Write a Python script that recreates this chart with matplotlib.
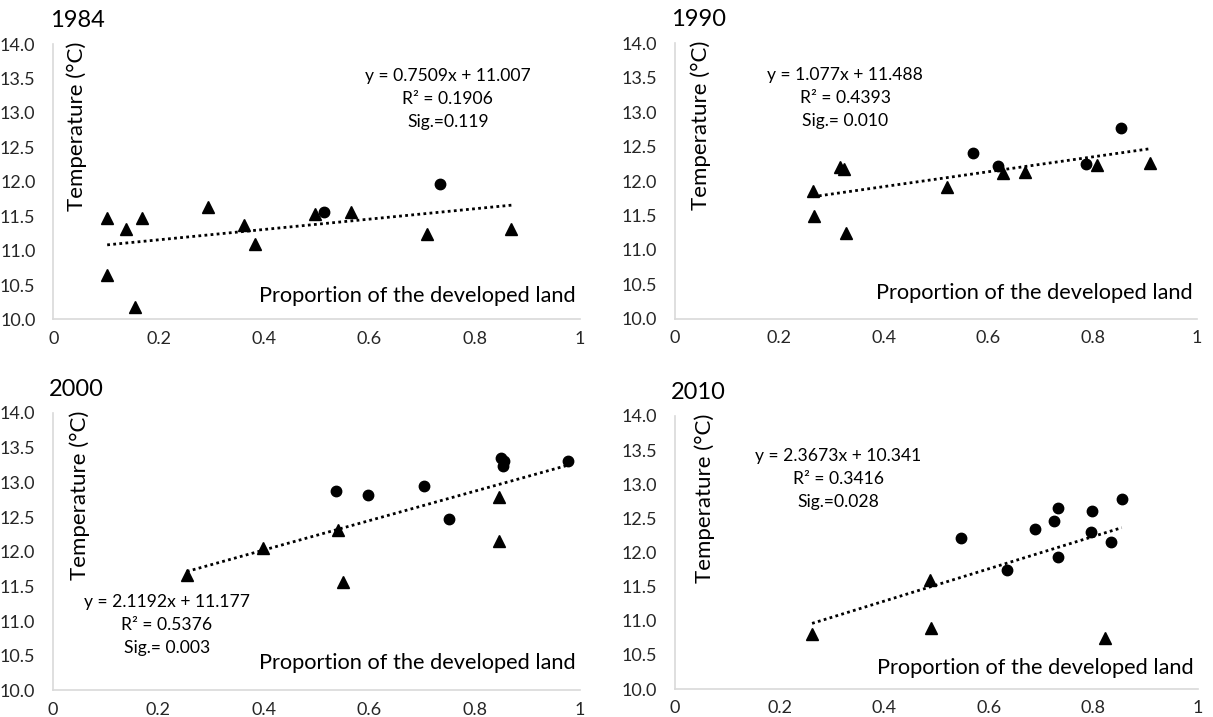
import numpy as np
import matplotlib
matplotlib.use("Agg")
from matplotlib import pyplot as plt

plt.rcParams['font.family'] = ['Lato', 'DejaVu Sans']

# data: triangles and dots per year
years = ["1984", "1990", "2000", "2010"]

x_tri_1984 = [0.102, 0.102, 0.138, 0.168, 0.154, 0.293, 0.362, 0.382, 0.497, 0.565, 0.709, 0.870]
y_tri_1984 = [11.47, 10.64, 11.32, 11.47, 10.18, 11.63, 11.37, 11.10, 11.53, 11.56, 11.24, 11.32]
x_dot_1984 = [0.513, 0.735]
y_dot_1984 = [11.56, 11.97]

x_tri_1990 = [0.264, 0.266, 0.317, 0.323, 0.328, 0.521, 0.629, 0.670, 0.808, 0.910]
y_tri_1990 = [11.86, 11.49, 12.21, 12.17, 11.24, 11.92, 12.12, 12.13, 12.23, 12.26]
x_dot_1990 = [0.570, 0.618, 0.788, 0.854]
y_dot_1990 = [12.41, 12.22, 12.25, 12.77]

x_tri_2000 = [0.254, 0.399, 0.540, 0.551, 0.847, 0.847]
y_tri_2000 = [11.66, 12.06, 12.31, 11.57, 12.79, 12.16]
x_dot_2000 = [0.537, 0.597, 0.704, 0.752, 0.850, 0.856, 0.853, 0.977]
y_dot_2000 = [12.87, 12.82, 12.95, 12.47, 13.35, 13.31, 13.23, 13.31]

x_tri_2010 = [0.262, 0.487, 0.489, 0.822]
y_tri_2010 = [10.80, 11.60, 10.89, 10.74]
x_dot_2010 = [0.546, 0.634, 0.689, 0.724, 0.732, 0.733, 0.797, 0.796, 0.833, 0.854]
y_dot_2010 = [12.21, 11.75, 12.34, 12.46, 12.65, 11.93, 12.60, 12.30, 12.15, 12.78]

slopes = [0.7509, 1.077, 2.1192, 2.3673]
intercepts = [11.007, 11.488, 11.177, 10.341]
eq_texts = ["y = 0.7509x + 11.007\nR\u00b2 = 0.1906\nSig.=0.119",
            "y = 1.077x + 11.488\nR\u00b2 = 0.4393\nSig.= 0.010",
            "y = 2.1192x + 11.177\nR\u00b2 = 0.5376\nSig.= 0.003",
            "y = 2.3673x + 10.341\nR\u00b2 = 0.3416\nSig.=0.028"]

x_ticks = [0, 0.2, 0.4, 0.6, 0.8, 1]
x_tick_labels = ["0", "0.2", "0.4", "0.6", "0.8", "1"]
y_ticks = [10.0, 10.5, 11.0, 11.5, 12.0, 12.5, 13.0, 13.5, 14.0]

tris = [(x_tri_1984, y_tri_1984), (x_tri_1990, y_tri_1990), (x_tri_2000, y_tri_2000), (x_tri_2010, y_tri_2010)]
dots = [(x_dot_1984, y_dot_1984), (x_dot_1990, y_dot_1990), (x_dot_2000, y_dot_2000), (x_dot_2010, y_dot_2010)]

# panel placement (figure fractions) and text spots (axes fractions)
boxes = [[0.0441, 0.5544, 0.434, 0.3842],
         [0.5565, 0.5551, 0.4303, 0.3849],
         [0.0437, 0.0370, 0.4345, 0.3870],
         [0.5565, 0.0390, 0.4312, 0.3810]]
eq_pos = [(0.749, 0.80), (0.326, 0.80), (0.216, 0.236), (0.312, 0.770)]
ylab_x = [0.045, 0.049, 0.050, 0.056]
xlab_y = [0.085, 0.093, 0.099, 0.077]

fig = plt.figure(figsize=(12.13, 7.17), dpi=100)

for i in range(4):
    ax = fig.add_axes(boxes[i])
    xt, yt = tris[i]
    xd, yd = dots[i]
    ax.plot(xt, yt, linestyle='none', marker='^', color='black', markersize=9)
    ax.plot(xd, yd, linestyle='none', marker='o', color='black', markersize=7.5)

    xs = np.array([min(xt + xd), max(xt + xd)])
    ax.plot(xs, slopes[i] * xs + intercepts[i], color='black', lw=2, linestyle=(0, (1, 1.2)))

    ax.set_xlim(0, 1)
    ax.set_ylim(10, 14)
    ax.set_xticks(x_ticks)
    ax.set_xticklabels(x_tick_labels)
    ax.set_yticks(y_ticks)
    ax.set_yticklabels(["%.1f" % v for v in y_ticks])
    ax.tick_params(length=0, labelsize=13, colors='#262626')
    ax.tick_params(axis='y', pad=13)
    ax.tick_params(axis='x', pad=8)
    for s in ['top', 'right']:
        ax.spines[s].set_visible(False)
    for s in ['left', 'bottom']:
        ax.spines[s].set_color('#d9d9d9')
        ax.spines[s].set_linewidth(1.2)

    ax.text(-0.007, 1.085, years[i], transform=ax.transAxes, fontsize=17, ha='left', va='center')
    ax.text(ylab_x[i], 1.01, "Temperature (\u00b0C)", transform=ax.transAxes, rotation=90,
            fontsize=16, ha='center', va='top')
    ax.text(0.992, xlab_y[i], "Proportion of the developed land", transform=ax.transAxes,
            fontsize=15.7, ha='right', va='center')
    ax.text(eq_pos[i][0], eq_pos[i][1], eq_texts[i], transform=ax.transAxes, fontsize=12.6,
            ha='center', va='center', multialignment='center', linespacing=1.55)

fig.savefig("out.png", dpi=100)
